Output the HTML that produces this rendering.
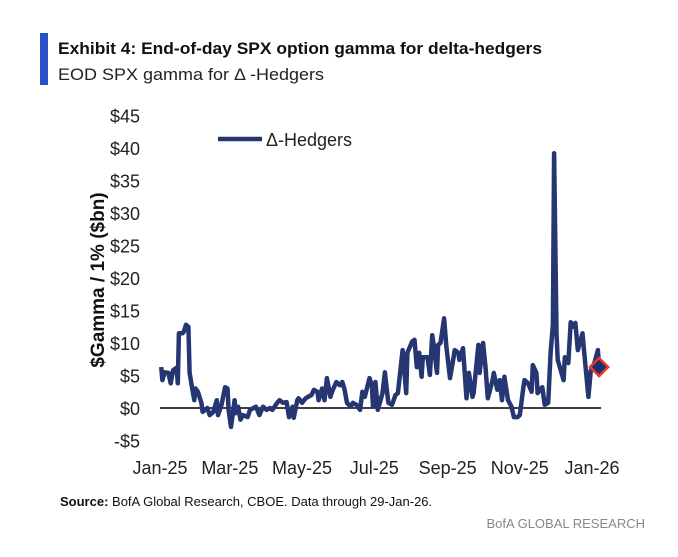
<!DOCTYPE html>
<html><head><meta charset="utf-8"><style>
body{margin:0;background:#fff;width:678px;height:557px;overflow:hidden;font-family:"Liberation Sans",sans-serif}
svg{position:absolute;left:0;top:0}
</style></head><body>
<svg width="678" height="557">
<rect x="40" y="33" width="8" height="52" fill="#2b4fc9"/>
<text x="58" y="54" font-size="17" font-weight="bold" fill="#111" textLength="484" lengthAdjust="spacingAndGlyphs">Exhibit 4: End-of-day SPX option gamma for delta-hedgers</text>
<text x="58" y="80" font-size="17" fill="#222" textLength="266" lengthAdjust="spacingAndGlyphs">EOD SPX gamma for  Δ -Hedgers</text>
<g id="yticks"></g>
<g id="xticks"></g>
<text transform="translate(104,280) rotate(-90)" text-anchor="middle" font-size="19" font-weight="bold" fill="#111">$Gamma / 1% ($bn)</text>
<line id="zero" stroke="#000" stroke-width="1.5"/>
<path id="series" fill="none" stroke="#253673" stroke-width="4.5" stroke-linejoin="round"/>
<g id="marker"></g>
<line x1="218" y1="139" x2="262" y2="139" stroke="#253673" stroke-width="4.5"/>
<text x="266" y="146" font-size="18" fill="#222">Δ-Hedgers</text>
<text x="60" y="506" font-size="13" fill="#111"><tspan font-weight="bold">Source:</tspan> BofA Global Research, CBOE. Data through 29-Jan-26.</text>
<text x="645" y="528" text-anchor="end" font-size="13" fill="#888">BofA GLOBAL RESEARCH</text>
</svg>
<script>
const days=[1,2,4,7,9,11,14,15,16,19,20,22,24,25,27,29,30,32,35,36,40,42,45,48,49,52,55,57,58,60,63,64,66,68,70,74,76,79,81,84,87,90,93,95,99,101,104,107,109,112,113,116,117,120,123,125,128,130,133,134,137,139,141,144,146,149,152,154,156,158,161,163,166,169,171,173,177,179,180,182,184,188,190,192,193,196,199,201,205,208,209,213,215,217,219,221,222,226,228,230,231,234,235,237,240,242,245,248,249,252,253,256,259,261,264,265,269,270,273,275,277,281,282,285,287,289,291,294,297,299,302,304,307,308,311,314,315,318,319,323,325,328,330,332,333,335,336,341,342,345,347,349,351,353,357,358,362,364,367,370,371];
const gamma=[6.3,4.3,5.5,5.4,3.8,5.8,6.2,3.8,11.5,11.5,11.7,12.8,12.5,5.4,3.2,1.2,3.0,2.5,0.8,-0.6,0,-1.1,-0.6,1.2,-1.1,0.5,3.2,3.0,-0.3,-2.9,1.2,-0.8,0.2,-1.8,-1.1,-1.4,-0.3,0,0.2,-1.1,0.2,-0.3,0,-0.3,0.8,1.2,0.8,0.9,-1.4,0.2,-1.5,1.2,1.5,0.8,1.5,1.7,2.0,2.8,2.5,1.2,3.0,1.2,4.6,1.7,2.8,4.0,3.5,4.0,2.8,0.8,0.2,0.8,0.5,-0.3,2.5,1.7,4.6,3.5,0.2,4.0,-0.3,2.3,5.5,2.3,0.8,0.5,2.0,2.3,8.9,2.3,8.5,10.2,10.5,6.3,8.5,4.8,7.8,7.8,5.1,11.2,10.0,5.4,9.7,10.0,13.8,9.4,4.6,7.7,8.9,8.5,7.4,9.2,1.5,5.4,1.7,2.3,9.7,5.4,10.0,6.3,1.5,4.3,5.4,2.8,4.3,1.2,4.8,1.2,0.2,-1.4,-1.4,-1.1,3.2,4.3,3.8,2.5,6.6,5.4,2.3,3.2,0.5,0.8,8.5,12.8,39.2,11.5,7.4,4.3,7.8,6.9,13.2,12.5,13.1,8.9,11.5,9.4,1.7,5.8,6.9,8.9,6.3];
const yTicks=[-5,0,5,10,15,20,25,30,35,40,45];
const xLabels=["Jan-25","Mar-25","May-25","Jul-25","Sep-25","Nov-25","Jan-26"];
const xLabelDays=[0,59,120,181,243,304,365];
const NS="http://www.w3.org/2000/svg";
const x=d=>160+d*432/365;
const y=v=>408-v*6.5;
const yt=document.getElementById('yticks');
yTicks.forEach(v=>{const t=document.createElementNS(NS,'text');
t.setAttribute('x',140);t.setAttribute('y',y(v)+7);t.setAttribute('text-anchor','end');t.setAttribute('font-size','18');t.setAttribute('fill','#222');
t.textContent=(v<0?'-$'+(-v):'$'+v);


yt.appendChild(t);});
const xt=document.getElementById('xticks');
xLabels.forEach((l,i)=>{const t=document.createElementNS(NS,'text');
t.setAttribute('x',x(xLabelDays[i]));t.setAttribute('y',474);t.setAttribute('text-anchor','middle');t.setAttribute('font-size','18');t.setAttribute('fill','#222');
t.textContent=l;


xt.appendChild(t);});
const z=document.getElementById('zero');
z.setAttribute('x1',x(0));z.setAttribute('x2',x(days[days.length-1])+2);z.setAttribute('y1',y(0));z.setAttribute('y2',y(0));
document.getElementById('series').setAttribute('d',days.map((d,i)=>(i?'L':'M')+x(d).toFixed(1)+' '+y(gamma[i]).toFixed(1)).join(' '));
const lx=x(days[days.length-1]),ly=y(gamma[gamma.length-1]);
const m=document.createElementNS(NS,'polygon');
m.setAttribute('points',`${lx},${ly-9} ${lx+9},${ly} ${lx},${ly+9} ${lx-9},${ly}`);
m.setAttribute('fill','#1f2d6b');m.setAttribute('stroke','#e8382b');m.setAttribute('stroke-width','2.5');


document.getElementById('marker').appendChild(m);
</script>
</body></html>
